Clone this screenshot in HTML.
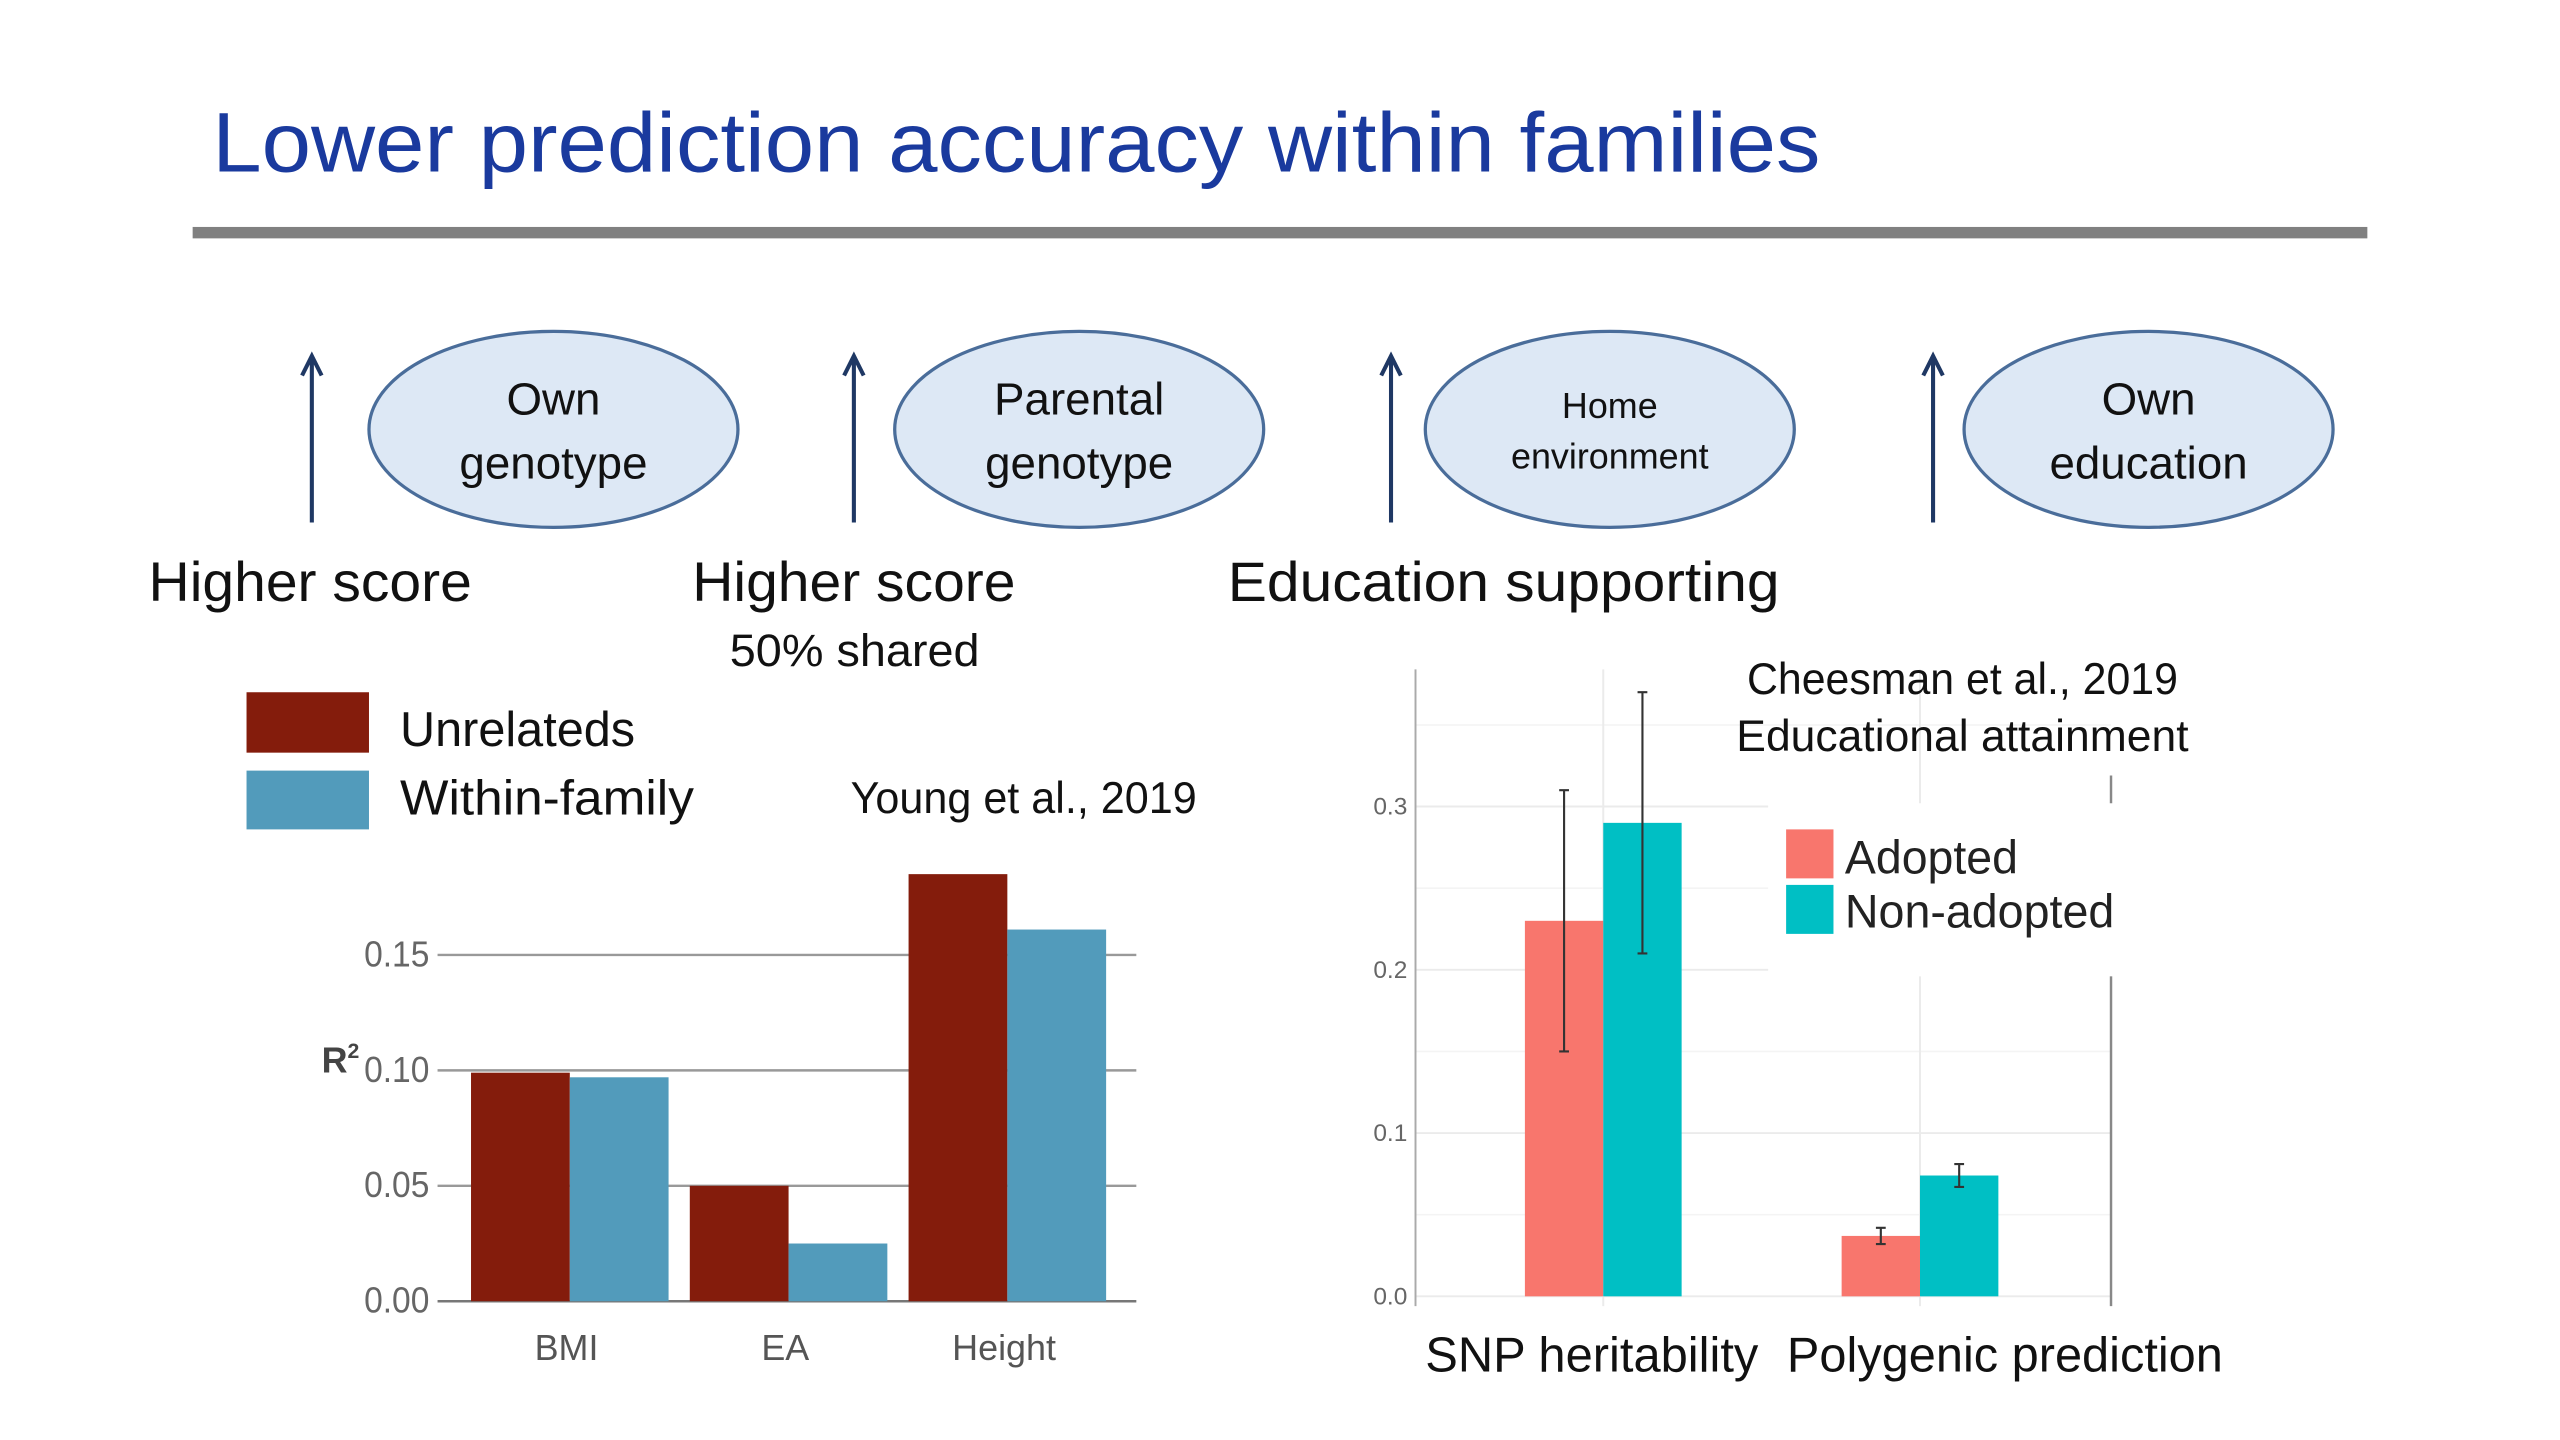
<!DOCTYPE html>
<html><head><meta charset="utf-8"><style>
html,body{margin:0;padding:0;background:#fff;}
svg{display:block;font-family:"Liberation Sans",sans-serif;}
</style></head><body>
<svg id="page" width="2560" height="1440" viewBox="0 0 1568 882" preserveAspectRatio="none" xmlns="http://www.w3.org/2000/svg">
<rect width="1568" height="882" fill="#fff"/>
<text x="130" y="105" font-size="52" fill="#1a3a9e" textLength="985" lengthAdjust="spacingAndGlyphs">Lower prediction accuracy within families</text>
<rect x="118" y="139" width="1332" height="7" fill="#808080"/>

<g font-size="28" fill="#111">
 <g stroke="#1f3864" stroke-width="2.5" fill="none">
  <path d="M191 320V220M185 230L191 218L197 230"/>
  <path d="M523 320V220M517 230L523 218L529 230"/>
  <path d="M852 320V220M846 230L852 218L858 230"/>
  <path d="M1184 320V220M1178 230L1184 218L1190 230"/>
 </g>
 <g fill="#dde8f5" stroke="#4a6d9a" stroke-width="2">
  <ellipse cx="339" cy="263" rx="113" ry="60"/>
  <ellipse cx="661" cy="263" rx="113" ry="60"/>
  <ellipse cx="986" cy="263" rx="113" ry="60"/>
  <ellipse cx="1316" cy="263" rx="113" ry="60"/>
 </g>
 <g text-anchor="middle">
  <text x="339" y="254">Own</text><text x="339" y="293">genotype</text>
  <text x="661" y="254">Parental</text><text x="661" y="293">genotype</text>
  <text x="986" y="256" font-size="22">Home</text><text x="986" y="287" font-size="22">environment</text>
  <text x="1316" y="254">Own</text><text x="1316" y="293">education</text>
 </g>
 <text x="91" y="368" font-size="34" textLength="198" lengthAdjust="spacingAndGlyphs">Higher score</text>
 <text x="424" y="368" font-size="34" textLength="198" lengthAdjust="spacingAndGlyphs">Higher score</text>
 <text x="447" y="408" font-size="28" textLength="153" lengthAdjust="spacingAndGlyphs">50% shared</text>
 <text x="752" y="368" font-size="34" textLength="338" lengthAdjust="spacingAndGlyphs">Education supporting</text>
</g>

<g id="left-chart"></g>
<g id="right-chart"></g>
</svg>
<script>
// Left chart data
const leftCategories = ["BMI", "EA", "Height"];
const leftUnrelated = [0.099, 0.050, 0.185];
const leftWithin = [0.097, 0.025, 0.161];
const leftTicks = ["0.00", "0.05", "0.10", "0.15"];
const leftTickValues = [0, 0.05, 0.10, 0.15];
// Right chart data
const rightCategories = ["SNP heritability", "Polygenic prediction"];
const rightAdopted = [0.23, 0.037];
const rightNonAdopted = [0.29, 0.074];
const rightAdoptedLo = [0.15, 0.032];
const rightAdoptedHi = [0.31, 0.042];
const rightNonLo = [0.21, 0.067];
const rightNonHi = [0.37, 0.081];
const rightTicks = ["0.0", "0.1", "0.2", "0.3"];
const rightTickValues = [0, 0.1, 0.2, 0.3];

const NS = "http://www.w3.org/2000/svg";
function mk(parent, tag, attrs, text) {
  const e = document.createElementNS(NS, tag);
  for (const k in attrs) e.setAttribute(k, attrs[k]);
  if (text !== undefined) e.textContent = text;
  parent.appendChild(e);
  return e;
}

// ---- Left chart ----
const L = document.getElementById('left-chart');
const ly = v => 797 - v * 1414;
const lx = i => 349 + i * 134;
const lbw = 60.5;
let e;
e = mk(L, 'rect', {x:151, y:424, width:75, height:37, fill:'#841c0c'});


e = mk(L, 'rect', {x:151, y:472, width:75, height:36, fill:'#529bbb'});


e = mk(L, 'text', {x:245, y:457, 'font-size':30, fill:'#111', textLength:144, lengthAdjust:'spacingAndGlyphs'}, 'Unrelateds');


e = mk(L, 'text', {x:245, y:499, 'font-size':30, fill:'#111', textLength:180, lengthAdjust:'spacingAndGlyphs'}, 'Within-family');


e = mk(L, 'text', {x:521, y:498, 'font-size':27, fill:'#111', textLength:212, lengthAdjust:'spacingAndGlyphs'}, 'Young et al., 2019');


leftTickValues.forEach((v, i) => {
  const g = mk(L, 'line', {x1:268, x2:696, y1:ly(v), y2:ly(v), stroke: i===0 ? '#777' : '#999', 'stroke-width':1.5});
  
  
  const t = mk(L, 'text', {x:263, y:ly(v)+7, 'font-size':22, fill:'#666', 'text-anchor':'end', textLength:40, lengthAdjust:'spacingAndGlyphs'}, leftTicks[i]);
  
  
});
e = mk(L, 'text', {x:197, y:657, 'font-size':22, 'font-weight':'bold', fill:'#444'}, 'R');


mk(e, 'tspan', {'font-size':13, dy:-9}, '2');
leftCategories.forEach((c, i) => {
  const b1 = mk(L, 'rect', {x:lx(i)-lbw, y:ly(leftUnrelated[i]), width:lbw, height:ly(0)-ly(leftUnrelated[i]), fill:'#841c0c'});
  
  
  const b2 = mk(L, 'rect', {x:lx(i), y:ly(leftWithin[i]), width:lbw, height:ly(0)-ly(leftWithin[i]), fill:'#529bbb'});
  
  
  const t = mk(L, 'text', {x:lx(i)-2, y:833, 'font-size':22, fill:'#555', 'text-anchor':'middle'}, c);
  
  
});

// ---- Right chart ----
const R = document.getElementById('right-chart');
const ry = v => 794 - v * 1000;
const rx = i => 982 + i * 194;
const rbw = 48;
[0.05, 0.15, 0.25, 0.35].forEach(v => {
  const g = mk(R, 'line', {x1:867, x2:1293, y1:ry(v), y2:ry(v), stroke:'#f4f4f4', 'stroke-width':1});
  
  
});
rightTickValues.forEach((v, i) => {
  const g = mk(R, 'line', {x1:867, x2:1293, y1:ry(v), y2:ry(v), stroke:'#ebebeb', 'stroke-width':1.2});
  
  
  const t = mk(R, 'text', {x:862, y:ry(v)+5, 'font-size':15, fill:'#666', 'text-anchor':'end'}, rightTicks[i]);
  
  
});
rightCategories.forEach((c, i) => {
  const g = mk(R, 'line', {x1:rx(i), x2:rx(i), y1:410, y2:800, stroke:'#ebebeb', 'stroke-width':1.2});
  
  
});
e = mk(R, 'line', {x1:867, x2:867, y1:410, y2:800, stroke:'#aaa', 'stroke-width':1.2});


e = mk(R, 'line', {x1:1293, x2:1293, y1:475, y2:800, stroke:'#888', 'stroke-width':1.5});


rightCategories.forEach((c, i) => {
  const b1 = mk(R, 'rect', {x:rx(i)-rbw, y:ry(rightAdopted[i]), width:rbw, height:ry(0)-ry(rightAdopted[i]), fill:'#f8766d'});
  
  
  const b2 = mk(R, 'rect', {x:rx(i), y:ry(rightNonAdopted[i]), width:rbw, height:ry(0)-ry(rightNonAdopted[i]), fill:'#00bfc4'});
  
  
  [[rx(i)-rbw/2, rightAdoptedLo[i], rightAdoptedHi[i]], [rx(i)+rbw/2, rightNonLo[i], rightNonHi[i]]].forEach(([x, lo, hi]) => {
    const p = mk(R, 'path', {d:`M${x} ${ry(lo)}V${ry(hi)}M${x-3} ${ry(lo)}H${x+3}M${x-3} ${ry(hi)}H${x+3}`, stroke:'#333', 'stroke-width':1.3, fill:'none'});
    
    
  });
  const t = mk(R, 'text', {x:i===0 ? 975 : 1228, y:840, 'font-size':30, fill:'#111', 'text-anchor':'middle', textLength:i===0 ? 204 : 267, lengthAdjust:'spacingAndGlyphs'}, c);
  
  
});
e = mk(R, 'rect', {x:1083, y:492, width:215, height:106, fill:'#fff'});


e = mk(R, 'rect', {x:1094, y:508, width:29, height:30, fill:'#f8766d'});


e = mk(R, 'rect', {x:1094, y:542, width:29, height:30, fill:'#00bfc4'});


e = mk(R, 'text', {x:1130, y:535, 'font-size':29, fill:'#222', textLength:106, lengthAdjust:'spacingAndGlyphs'}, 'Adopted');


e = mk(R, 'text', {x:1130, y:568, 'font-size':29, fill:'#222', textLength:165, lengthAdjust:'spacingAndGlyphs'}, 'Non-adopted');


e = mk(R, 'text', {x:1202, y:425, 'font-size':27, fill:'#111', 'text-anchor':'middle', textLength:264, lengthAdjust:'spacingAndGlyphs'}, 'Cheesman et al., 2019');


e = mk(R, 'text', {x:1202, y:460, 'font-size':27, fill:'#111', 'text-anchor':'middle', textLength:277, lengthAdjust:'spacingAndGlyphs'}, 'Educational attainment');


</script>
</body></html>
